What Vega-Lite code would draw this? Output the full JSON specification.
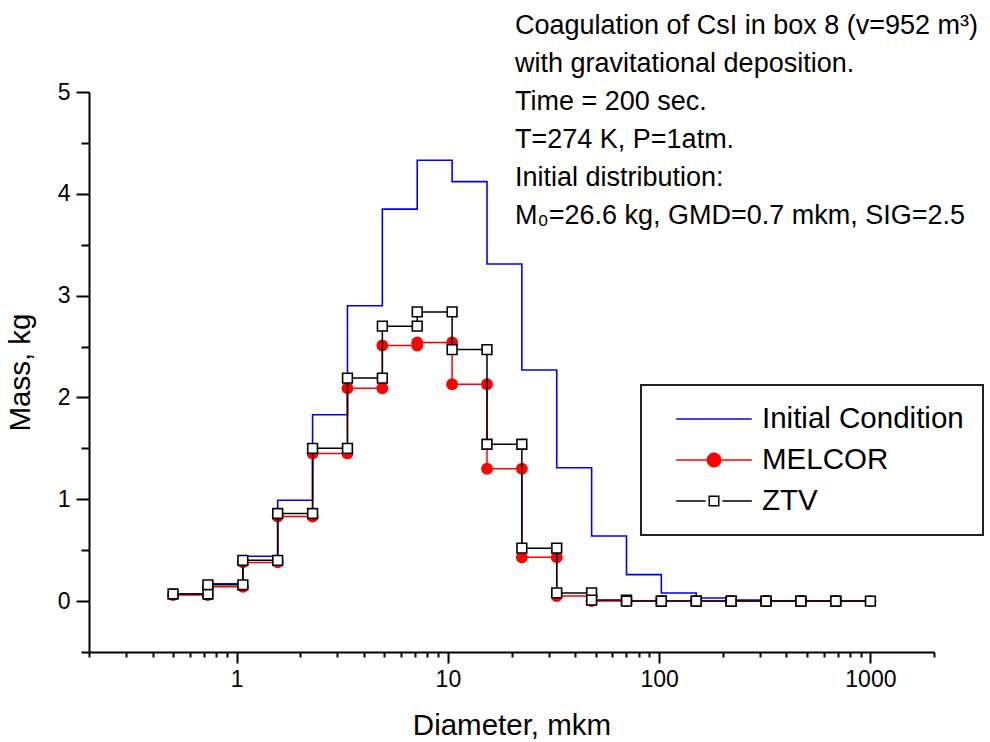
{
  "$schema": "https://vega.github.io/schema/vega-lite/v6.json",
  "width": 845,
  "height": 560,
  "autosize": "none",
  "padding": {"left": 89, "top": 92, "right": 56, "bottom": 90},
  "background": "white",
  "title": {
    "text": ["Coagulation of CsI in box 8 (v=952 m³)", "with gravitational deposition.", "Time = 200 sec.", "T=274 K, P=1atm.", "Initial distribution:", "M₀=26.6 kg, GMD=0.7 mkm, SIG=2.5"],
    "anchor": "start",
    "frame": "group",
    "orient": "top",
    "align": "left",
    "baseline": "alphabetic",
    "dx": 426,
    "dy": 170,
    "offset": 0,
    "font": "Liberation Sans",
    "fontSize": 27,
    "fontWeight": "normal",
    "lineHeight": 38,
    "color": "black"
  },
  "data": {
    "values": [
      {"s": "Initial Condition", "k": 0, "d": 0.5, "m": 0.07}, {"s": "Initial Condition", "k": 1, "d": 0.731, "m": 0.07},
      {"s": "Initial Condition", "k": 2, "d": 0.731, "m": 0.17}, {"s": "Initial Condition", "k": 3, "d": 1.07, "m": 0.17},
      {"s": "Initial Condition", "k": 4, "d": 1.07, "m": 0.44}, {"s": "Initial Condition", "k": 5, "d": 1.564, "m": 0.44},
      {"s": "Initial Condition", "k": 6, "d": 1.564, "m": 0.99}, {"s": "Initial Condition", "k": 7, "d": 2.288, "m": 0.99},
      {"s": "Initial Condition", "k": 8, "d": 2.288, "m": 1.83}, {"s": "Initial Condition", "k": 9, "d": 3.346, "m": 1.83},
      {"s": "Initial Condition", "k": 10, "d": 3.346, "m": 2.9}, {"s": "Initial Condition", "k": 11, "d": 4.894, "m": 2.9},
      {"s": "Initial Condition", "k": 12, "d": 4.894, "m": 3.85}, {"s": "Initial Condition", "k": 13, "d": 7.158, "m": 3.85},
      {"s": "Initial Condition", "k": 14, "d": 7.158, "m": 4.33}, {"s": "Initial Condition", "k": 15, "d": 10.47, "m": 4.33},
      {"s": "Initial Condition", "k": 16, "d": 10.47, "m": 4.12}, {"s": "Initial Condition", "k": 17, "d": 15.31, "m": 4.12},
      {"s": "Initial Condition", "k": 18, "d": 15.31, "m": 3.31}, {"s": "Initial Condition", "k": 19, "d": 22.39, "m": 3.31},
      {"s": "Initial Condition", "k": 20, "d": 22.39, "m": 2.27}, {"s": "Initial Condition", "k": 21, "d": 32.75, "m": 2.27},
      {"s": "Initial Condition", "k": 22, "d": 32.75, "m": 1.31}, {"s": "Initial Condition", "k": 23, "d": 47.9, "m": 1.31},
      {"s": "Initial Condition", "k": 24, "d": 47.9, "m": 0.64}, {"s": "Initial Condition", "k": 25, "d": 70.05, "m": 0.64},
      {"s": "Initial Condition", "k": 26, "d": 70.05, "m": 0.26}, {"s": "Initial Condition", "k": 27, "d": 102.4, "m": 0.26},
      {"s": "Initial Condition", "k": 28, "d": 102.4, "m": 0.08}, {"s": "Initial Condition", "k": 29, "d": 149.8, "m": 0.08},
      {"s": "Initial Condition", "k": 30, "d": 149.8, "m": 0.03}, {"s": "Initial Condition", "k": 31, "d": 219.1, "m": 0.03},
      {"s": "Initial Condition", "k": 32, "d": 219.1, "m": 0.01}, {"s": "Initial Condition", "k": 33, "d": 320.5, "m": 0.01},
      {"s": "Initial Condition", "k": 34, "d": 320.5, "m": 0}, {"s": "Initial Condition", "k": 35, "d": 468.7, "m": 0},
      {"s": "Initial Condition", "k": 36, "d": 468.7, "m": 0}, {"s": "Initial Condition", "k": 37, "d": 685.5, "m": 0},
      {"s": "Initial Condition", "k": 38, "d": 685.5, "m": 0}, {"s": "Initial Condition", "k": 39, "d": 1000, "m": 0},

      {"s": "MELCOR", "k": 0, "d": 0.5, "m": 0.06}, {"s": "MELCOR", "k": 1, "d": 0.731, "m": 0.06},
      {"s": "MELCOR", "k": 2, "d": 0.731, "m": 0.14}, {"s": "MELCOR", "k": 3, "d": 1.07, "m": 0.14},
      {"s": "MELCOR", "k": 4, "d": 1.07, "m": 0.38}, {"s": "MELCOR", "k": 5, "d": 1.564, "m": 0.38},
      {"s": "MELCOR", "k": 6, "d": 1.564, "m": 0.83}, {"s": "MELCOR", "k": 7, "d": 2.288, "m": 0.83},
      {"s": "MELCOR", "k": 8, "d": 2.288, "m": 1.45}, {"s": "MELCOR", "k": 9, "d": 3.346, "m": 1.45},
      {"s": "MELCOR", "k": 10, "d": 3.346, "m": 2.09}, {"s": "MELCOR", "k": 11, "d": 4.894, "m": 2.09},
      {"s": "MELCOR", "k": 12, "d": 4.894, "m": 2.51}, {"s": "MELCOR", "k": 13, "d": 7.158, "m": 2.51},
      {"s": "MELCOR", "k": 14, "d": 7.158, "m": 2.54}, {"s": "MELCOR", "k": 15, "d": 10.47, "m": 2.54},
      {"s": "MELCOR", "k": 16, "d": 10.47, "m": 2.13}, {"s": "MELCOR", "k": 17, "d": 15.31, "m": 2.13},
      {"s": "MELCOR", "k": 18, "d": 15.31, "m": 1.3}, {"s": "MELCOR", "k": 19, "d": 22.39, "m": 1.3},
      {"s": "MELCOR", "k": 20, "d": 22.39, "m": 0.43}, {"s": "MELCOR", "k": 21, "d": 32.75, "m": 0.43},
      {"s": "MELCOR", "k": 22, "d": 32.75, "m": 0.05}, {"s": "MELCOR", "k": 23, "d": 47.9, "m": 0.05},
      {"s": "MELCOR", "k": 24, "d": 47.9, "m": 0}, {"s": "MELCOR", "k": 25, "d": 70.05, "m": 0},
      {"s": "MELCOR", "k": 26, "d": 70.05, "m": 0}, {"s": "MELCOR", "k": 27, "d": 102.4, "m": 0},
      {"s": "MELCOR", "k": 28, "d": 102.4, "m": 0}, {"s": "MELCOR", "k": 29, "d": 149.8, "m": 0},
      {"s": "MELCOR", "k": 30, "d": 149.8, "m": 0}, {"s": "MELCOR", "k": 31, "d": 219.1, "m": 0},
      {"s": "MELCOR", "k": 32, "d": 219.1, "m": 0}, {"s": "MELCOR", "k": 33, "d": 320.5, "m": 0},
      {"s": "MELCOR", "k": 34, "d": 320.5, "m": 0}, {"s": "MELCOR", "k": 35, "d": 468.7, "m": 0},
      {"s": "MELCOR", "k": 36, "d": 468.7, "m": 0}, {"s": "MELCOR", "k": 37, "d": 685.5, "m": 0},
      {"s": "MELCOR", "k": 38, "d": 685.5, "m": 0}, {"s": "MELCOR", "k": 39, "d": 1000, "m": 0},

      {"s": "ZTV", "k": 0, "d": 0.5, "m": 0.07}, {"s": "ZTV", "k": 1, "d": 0.731, "m": 0.07},
      {"s": "ZTV", "k": 2, "d": 0.731, "m": 0.16}, {"s": "ZTV", "k": 3, "d": 1.07, "m": 0.16},
      {"s": "ZTV", "k": 4, "d": 1.07, "m": 0.4}, {"s": "ZTV", "k": 5, "d": 1.564, "m": 0.4},
      {"s": "ZTV", "k": 6, "d": 1.564, "m": 0.86}, {"s": "ZTV", "k": 7, "d": 2.288, "m": 0.86},
      {"s": "ZTV", "k": 8, "d": 2.288, "m": 1.5}, {"s": "ZTV", "k": 9, "d": 3.346, "m": 1.5},
      {"s": "ZTV", "k": 10, "d": 3.346, "m": 2.19}, {"s": "ZTV", "k": 11, "d": 4.894, "m": 2.19},
      {"s": "ZTV", "k": 12, "d": 4.894, "m": 2.7}, {"s": "ZTV", "k": 13, "d": 7.158, "m": 2.7},
      {"s": "ZTV", "k": 14, "d": 7.158, "m": 2.84}, {"s": "ZTV", "k": 15, "d": 10.47, "m": 2.84},
      {"s": "ZTV", "k": 16, "d": 10.47, "m": 2.47}, {"s": "ZTV", "k": 17, "d": 15.31, "m": 2.47},
      {"s": "ZTV", "k": 18, "d": 15.31, "m": 1.54}, {"s": "ZTV", "k": 19, "d": 22.39, "m": 1.54},
      {"s": "ZTV", "k": 20, "d": 22.39, "m": 0.52}, {"s": "ZTV", "k": 21, "d": 32.75, "m": 0.52},
      {"s": "ZTV", "k": 22, "d": 32.75, "m": 0.08}, {"s": "ZTV", "k": 23, "d": 47.9, "m": 0.08},
      {"s": "ZTV", "k": 24, "d": 47.9, "m": 0.01}, {"s": "ZTV", "k": 25, "d": 70.05, "m": 0.01},
      {"s": "ZTV", "k": 26, "d": 70.05, "m": 0}, {"s": "ZTV", "k": 27, "d": 102.4, "m": 0},
      {"s": "ZTV", "k": 28, "d": 102.4, "m": 0}, {"s": "ZTV", "k": 29, "d": 149.8, "m": 0},
      {"s": "ZTV", "k": 30, "d": 149.8, "m": 0}, {"s": "ZTV", "k": 31, "d": 219.1, "m": 0},
      {"s": "ZTV", "k": 32, "d": 219.1, "m": 0}, {"s": "ZTV", "k": 33, "d": 320.5, "m": 0},
      {"s": "ZTV", "k": 34, "d": 320.5, "m": 0}, {"s": "ZTV", "k": 35, "d": 468.7, "m": 0},
      {"s": "ZTV", "k": 36, "d": 468.7, "m": 0}, {"s": "ZTV", "k": 37, "d": 685.5, "m": 0},
      {"s": "ZTV", "k": 38, "d": 685.5, "m": 0}, {"s": "ZTV", "k": 39, "d": 1000, "m": 0}
    ]
  },
  "encoding": {
    "x": {
      "field": "d",
      "type": "quantitative",
      "scale": {"type": "log", "domain": [0.2, 2000], "nice": false},
      "axis": {
        "title": "Diameter, mkm",
        "values": [0.2, 0.3, 0.4, 0.5, 0.6, 0.7, 0.8, 0.9, 1, 2, 3, 4, 5, 6, 7, 8, 9, 10, 20, 30, 40, 50, 60, 70, 80, 90, 100, 200, 300, 400, 500, 600, 700, 800, 900, 1000, 2000],
        "labelExpr": "indexof([1, 10, 100, 1000], datum.value) >= 0 ? format(datum.value, 'd') : ''",
        "labelOverlap": false,
        "tickSize": {"condition": {"test": "indexof([1, 10, 100, 1000], datum.value) >= 0", "value": 11}, "value": 5},
        "labelPadding": 5,
        "titlePadding": 20
      }
    },
    "y": {
      "field": "m",
      "type": "quantitative",
      "scale": {"domain": [-0.5, 5], "nice": false, "zero": false},
      "axis": {
        "title": "Mass, kg",
        "values": [-0.5, 0, 0.5, 1, 1.5, 2, 2.5, 3, 3.5, 4, 4.5, 5],
        "labelExpr": "datum.value >= 0 && datum.value % 1 === 0 ? format(datum.value, 'd') : ''",
        "labelOverlap": false,
        "tickSize": {"condition": {"test": "datum.value % 1 === 0", "value": 13}, "value": 8},
        "labelPadding": 6,
        "titlePadding": 22
      }
    },
    "order": {"field": "k", "type": "quantitative"}
  },
  "layer": [
    {
      "transform": [{"filter": "datum.s === 'Initial Condition'"}],
      "mark": {"type": "line", "strokeWidth": 1.6, "clip": false},
      "encoding": {
        "color": {
          "field": "s",
          "type": "nominal",
          "scale": {"domain": ["Initial Condition", "MELCOR", "ZTV"], "range": ["#0000ff", "#ff0000", "#000000"]},
          "legend": {
            "orient": "none",
            "legendX": 552,
            "legendY": 293,
            "title": null,
            "labelFont": "Liberation Sans",
            "labelFontSize": 29.5,
            "labelColor": "black",
            "labelLimit": 400,
            "labelExpr": "datum.label + '        '",
            "symbolSize": 784,
            "symbolStrokeWidth": 1.5,
            "symbolOffset": 39,
            "labelOffset": 33,
            "rowPadding": 11,
            "padding": 19,
            "strokeColor": "#222222",
            "encode": {
              "legend": {"update": {"strokeWidth": {"value": 2}}},
              "symbols": {
                "update": {
                  "shape": {"signal": "datum.value === 'MELCOR' ? 'M-2.7,0H-0.45M0.45,0H2.7M-0.48,0A0.48,0.48,0,1,0,0.48,0A0.48,0.48,0,1,0,-0.48,0Z' : datum.value === 'ZTV' ? 'M-2.7,0H-0.6M0.6,0H2.7M-0.34,-0.34H0.34V0.34H-0.34Z' : 'M-2.7,0H2.7'"},
                  "fill": {"signal": "datum.value === 'MELCOR' ? '#ff0000' : datum.value === 'ZTV' ? '#ffffff' : 'transparent'"},
                  "strokeWidth": {"value": 1.5},
                  "opacity": {"value": 1}
                }
              }
            }
          }
        }
      }
    },
    {
      "transform": [{"filter": "datum.s === 'MELCOR'"}],
      "mark": {"type": "line", "strokeWidth": 1.5, "clip": false},
      "encoding": {"color": {"field": "s", "type": "nominal"}}
    },
    {
      "transform": [{"filter": "datum.s === 'MELCOR'"}],
      "mark": {"type": "point", "shape": "circle", "filled": true, "color": "#ff0000", "size": 140, "opacity": 1}
    },
    {
      "transform": [{"filter": "datum.s === 'ZTV'"}],
      "mark": {"type": "line", "strokeWidth": 1.5, "clip": false},
      "encoding": {"color": {"field": "s", "type": "nominal"}}
    },
    {
      "transform": [{"filter": "datum.s === 'ZTV'"}],
      "mark": {"type": "point", "shape": "square", "filled": true, "fill": "#ffffff", "stroke": "#000000", "strokeWidth": 1.6, "size": 95, "opacity": 1}
    }
  ],
  "config": {
    "font": "Liberation Sans",
    "view": {"stroke": null},
    "axis": {
      "grid": false,
      "domainColor": "black",
      "domainWidth": 2,
      "tickColor": "black",
      "tickWidth": 2,
      "labelFont": "Liberation Sans",
      "labelFontSize": 23,
      "labelColor": "black",
      "titleFont": "Liberation Sans",
      "titleFontSize": 29.5,
      "titleFontWeight": "normal",
      "titleColor": "black"
    }
  }
}
